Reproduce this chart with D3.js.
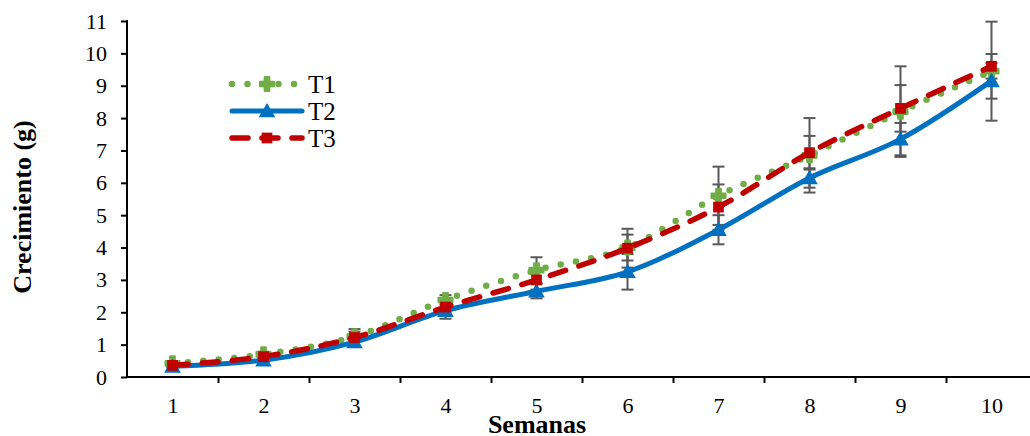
<!DOCTYPE html>
<html>
<head>
<meta charset="utf-8">
<script src="https://cdn.jsdelivr.net/npm/d3@7/dist/d3.min.js"></script>
<style>
  html, body { margin: 0; padding: 0; background: #fff; }
  svg { display: block; }
  text { font-family: "Liberation Serif", "Times New Roman", serif; fill: #000; }
</style>
</head>
<body>
<svg id="chart" width="1030" height="436"></svg>
<script>
// Weekly growth (g) for three treatments, with error bars
const weeks = [1, 2, 3, 4, 5, 6, 7, 8, 9, 10];
const yTicks = [0, 1, 2, 3, 4, 5, 6, 7, 8, 9, 10, 11];

const t1 = [0.42, 0.70, 1.25, 2.38, 3.30, 4.00, 5.60, 6.85, 8.20, 9.45];
const t2 = [0.33, 0.52, 1.08, 2.05, 2.65, 3.25, 4.55, 6.15, 7.35, 9.15];
const t3 = [0.36, 0.63, 1.22, 2.16, 3.00, 3.98, 5.25, 6.93, 8.30, 9.60];

const t1Err = [0.05, 0.08, 0.15, 0.15, 0.40, 0.40, 0.90, 1.15, 1.40, 1.53];
const t2Err = [0.04, 0.06, 0.12, 0.25, 0.22, 0.55, 0.45, 0.30, 0.50, 0.55];
const t3Err = [0.05, 0.07, 0.26, 0.18, 0.30, 0.60, 0.70, 0.52, 0.72, 0.38];

const seriesNames = ["T1", "T2", "T3"];

const series = [
  { name: seriesNames[0], values: t1, err: t1Err, color: "#70AD47", marker: "cross" },
  { name: seriesNames[1], values: t2, err: t2Err, color: "#0070C0", marker: "triangle" },
  { name: seriesNames[2], values: t3, err: t3Err, color: "#C00000", marker: "square" }
];

const svg = d3.select("#chart");
const plotLeft = 127, plotRight = 1037, plotTop = 21, plotBottom = 377;

// category positions: each week occupies one band, the value sits in the middle
const x = d3.scaleLinear().domain([0.5, 10.5]).range([plotLeft, plotRight]);
const y = d3.scaleLinear().domain([0, 11]).range([plotBottom, plotTop]);

// x axis: ticks on band boundaries, labels at band centres
const xAxisTicks = svg.append("g")
  .attr("transform", `translate(0,${plotBottom})`)
  .call(d3.axisBottom(x)
    .tickValues(weeks.slice(0, -1).map(w => w + 0.5))
    .tickSize(6)
    .tickFormat(""));
xAxisTicks.select(".domain").remove();
xAxisTicks.selectAll(".tick line").attr("stroke", "#000").attr("stroke-width", 2);

const xAxisLabels = svg.append("g")
  .attr("transform", `translate(0,${plotBottom})`)
  .call(d3.axisBottom(x)
    .tickValues(weeks)
    .tickSize(0)
    .tickPadding(20)
    .tickFormat(d3.format("d")));
xAxisLabels.select(".domain").remove();
xAxisLabels.selectAll("text").attr("font-size", 22).attr("font-family", "Liberation Serif");

// y axis
const yAxis = svg.append("g")
  .attr("transform", `translate(${plotLeft},0)`)
  .call(d3.axisLeft(y)
    .tickValues(yTicks)
    .tickSize(6)
    .tickPadding(14)
    .tickFormat(d3.format("d")));
yAxis.select(".domain").remove();
yAxis.selectAll(".tick line").attr("stroke", "#000").attr("stroke-width", 2);
yAxis.selectAll("text").attr("font-size", 22).attr("font-family", "Liberation Serif");

// axis lines
svg.append("line")
  .attr("x1", plotLeft).attr("x2", plotRight)
  .attr("y1", plotBottom).attr("y2", plotBottom)
  .attr("stroke", "#000").attr("stroke-width", 2);
svg.append("line")
  .attr("x1", plotLeft).attr("x2", plotLeft)
  .attr("y1", plotTop - 1).attr("y2", plotBottom + 1)
  .attr("stroke", "#000").attr("stroke-width", 2);

// axis titles
svg.append("text")
  .attr("x", 537).attr("y", 433)
  .attr("text-anchor", "middle")
  .attr("font-size", 26)
  .attr("font-weight", "bold")
  .text("Semanas");

svg.append("text")
  .attr("transform", `translate(31,${(plotTop + plotBottom) / 2 + 8}) rotate(-90)`)
  .attr("text-anchor", "middle")
  .attr("font-size", 26)
  .attr("font-weight", "bold")
  .text("Crecimiento (g)");

// error bars
const capHalf = 6;
const errG = svg.append("g").attr("stroke", "#595959").attr("stroke-width", 2);
series.forEach(s => {
  weeks.forEach((w, i) => {
    const cx = x(w), hi = y(s.values[i] + s.err[i]), lo = y(s.values[i] - s.err[i]);
    errG.append("line").attr("x1", cx).attr("x2", cx).attr("y1", hi).attr("y2", lo);
    errG.append("line").attr("x1", cx - capHalf).attr("x2", cx + capHalf).attr("y1", hi).attr("y2", hi);
    errG.append("line").attr("x1", cx - capHalf).attr("x2", cx + capHalf).attr("y1", lo).attr("y2", lo);
  });
});

const line = d3.line()
  .x((d, i) => x(weeks[i]))
  .y(d => y(d))
  .curve(d3.curveCatmullRom.alpha(0));

function styleLine(sel, s) {
  sel.attr("fill", "none").attr("stroke", s.color).attr("stroke-linejoin", "round");
  if (s.marker === "cross") {
    sel.attr("stroke-width", 6.5).attr("stroke-linecap", "round").attr("stroke-dasharray", "0,15.5");
  } else if (s.marker === "triangle") {
    sel.attr("stroke-width", 5).attr("stroke-linecap", "round");
  } else {
    sel.attr("stroke-width", 5.5).attr("stroke-linecap", "round").attr("stroke-dasharray", "16,14");
  }
}

const symbolType = {
  cross: d3.symbolCross,
  triangle: d3.symbolTriangle,
  square: d3.symbolSquare
};
const symbolSize = { cross: 110, triangle: 120, square: 115 };

function drawMarker(g, s, cx, cy) {
  const m = g.append("path")
    .attr("d", d3.symbol().type(symbolType[s.marker]).size(symbolSize[s.marker])())
    .attr("transform", `translate(${cx},${cy + (s.marker === "triangle" ? 1.5 : 0)})`)
    .attr("fill", s.color);
  if (s.marker === "cross") m.attr("stroke", s.color).attr("stroke-width", 2).attr("stroke-linejoin", "round");
}

series.forEach(s => {
  const g = svg.append("g");
  g.append("path").datum(s.values).attr("d", line).call(styleLine, s);
  s.values.forEach((v, i) => drawMarker(g, s, x(weeks[i]), y(v)));
});

// legend
const legendX1 = 232, legendX2 = 302, legendRows = [84, 111, 138];
series.forEach((s, i) => {
  const g = svg.append("g");
  const ly = legendRows[i];
  g.append("path")
    .attr("d", `M${legendX1},${ly}L${legendX2},${ly}`)
    .call(styleLine, s);
  drawMarker(g, s, (legendX1 + legendX2) / 2, ly);
  g.append("text")
    .attr("x", 308).attr("y", ly + 8.5)
    .attr("font-size", 25)
    .text(s.name);
});
</script>
</body>
</html>
